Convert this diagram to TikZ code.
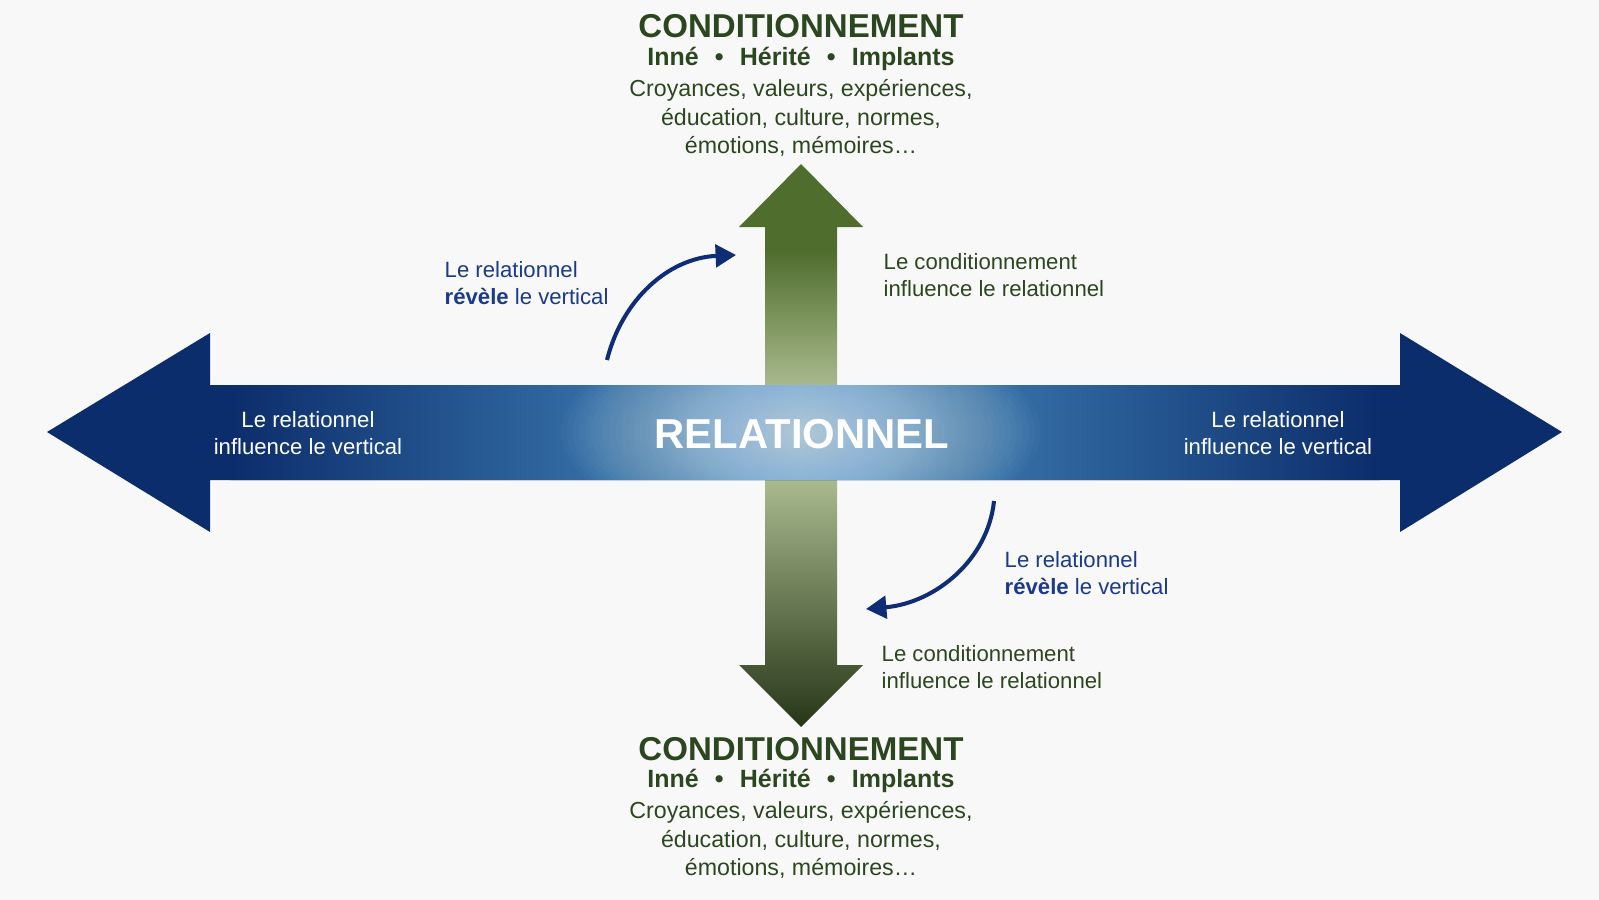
\documentclass[tikz,border=0pt]{standalone}
\usepackage{fontspec}
\setmainfont{Liberation Sans}
\usetikzlibrary{arrows.meta,positioning}
\definecolor{navy}{HTML}{0C2D6B}
\definecolor{midblue}{HTML}{4A92C4}
\definecolor{olive}{HTML}{4F6D2D}
\definecolor{sage}{HTML}{A9BA8E}
\definecolor{darkolive}{HTML}{1F2F12}
\definecolor{textgreen}{HTML}{2C4720}
\definecolor{textblue}{HTML}{1B3A8C}
\definecolor{curveblue}{HTML}{0E2D75}
\definecolor{backdrop}{HTML}{F8F8F8}
\begin{document}
\begin{tikzpicture}[
  x=0.01cm, y=-0.01cm,
  condtitle/.style={font=\fontsize{9.4}{11}\selectfont\bfseries, text=textgreen, inner sep=0},
  condsub/.style={font=\fontsize{7.1}{8.5}\selectfont\bfseries, text=textgreen, inner sep=0},
  condlist/.style={font=\fontsize{6.6}{8}\selectfont, text=textgreen, align=center, inner sep=0},
  sidelabel/.style={font=\fontsize{6.3}{7.6}\selectfont, inner sep=0},
  revealarrow/.style={draw=curveblue, line width=1.15pt, -{Triangle[length=5.8pt,width=6.4pt]}}
]
  \useasboundingbox (0,0) rectangle (1599,900);
  \fill[backdrop] (0,0) rectangle (1599,900);

  % vertical arrow
  \begin{scope}
    \clip (801,164) -- (863,227) -- (837,227) -- (837,665) -- (863,665) -- (801,727)
      -- (739,665) -- (765,665) -- (765,227) -- (739,227) -- cycle;
    \fill[olive] (700,150) rectangle (900,250);
    \shade[top color=olive, bottom color=sage] (700,250) rectangle (900,386);
    \fill[sage] (700,386) rectangle (900,480);
    \shade[top color=sage, bottom color=darkolive] (700,480) rectangle (900,740);
  \end{scope}

  % horizontal arrow
  \begin{scope}
    \clip (47,432) -- (210,333) -- (210,385) -- (1400,385) -- (1400,333) -- (1562,432)
      -- (1400,532) -- (1400,480) -- (210,480) -- (210,532) -- cycle;
    \fill[navy] (0,300) rectangle (1599,560);
    \shade[left color=navy, right color=midblue] (230,380) rectangle (801,485);
    \shade[left color=midblue, right color=navy] (801,380) rectangle (1380,485);
    \foreach \r in {1,...,40}
      \fill[white, opacity=0.025] (801,432) ellipse ({\r*6} and {\r*2.6});
  \end{scope}

  % texts
  \node[condtitle] (condtop) at (801,26) {CONDITIONNEMENT};
  \node[condsub] (herittop) at (801,59) {Inné\hspace{0.65em}•\hspace{0.65em}Hérité\hspace{0.65em}•\hspace{0.65em}Implants};
  \node[condlist] (listtop) at (801,118) {Croyances, valeurs, expériences,\\éducation, culture, normes,\\émotions, mémoires…};

  \node[condtitle] (condbot) at (801,749) {CONDITIONNEMENT};
  \node[condsub] (heritbot) at (801,781) {Inné\hspace{0.65em}•\hspace{0.65em}Hérité\hspace{0.65em}•\hspace{0.65em}Implants};
  \node[condlist] (listbot) at (801,840) {Croyances, valeurs, expériences,\\éducation, culture, normes,\\émotions, mémoires…};

  \node[font=\fontsize{11.9}{14}\selectfont\bfseries, text=white, inner sep=0] (relnode) at (802,434) {RELATIONNEL};

  \node[sidelabel, text=white, align=center] (lefttxt) at (308,433) {Le relationnel\\influence le vertical};
  \node[sidelabel, text=white, align=center] (righttxt) at (1278,433) {Le relationnel\\influence le vertical};

  \node[sidelabel, text=textgreen, align=left, anchor=west] (condrtop) at (883,275) {Le conditionnement\\influence le relationnel};
  \node[sidelabel, text=textgreen, align=left, anchor=west] (condrbot) at (881,667) {Le conditionnement\\influence le relationnel};

  \node[sidelabel, text=textblue, align=left, anchor=west] (revtop) at (444,283) {Le relationnel\\\textbf{révèle} le vertical};
  \node[sidelabel, text=textblue, align=left, anchor=west] (revbot) at (1004,573) {Le relationnel\\\textbf{révèle} le vertical};

  % curved arrows
  \coordinate (revtopstart) at (607,360);
  \coordinate (revtopend) at (736,255);
  \draw[revealarrow] (revtopstart) .. controls (622,300) and (668,258) .. (revtopend);
  \coordinate (revbotstart) at (994,501);
  \coordinate (revbotend) at (866,609);
  \draw[revealarrow] (revbotstart) .. controls (988,560) and (935,603) .. (revbotend);
\end{tikzpicture}
\end{document}
